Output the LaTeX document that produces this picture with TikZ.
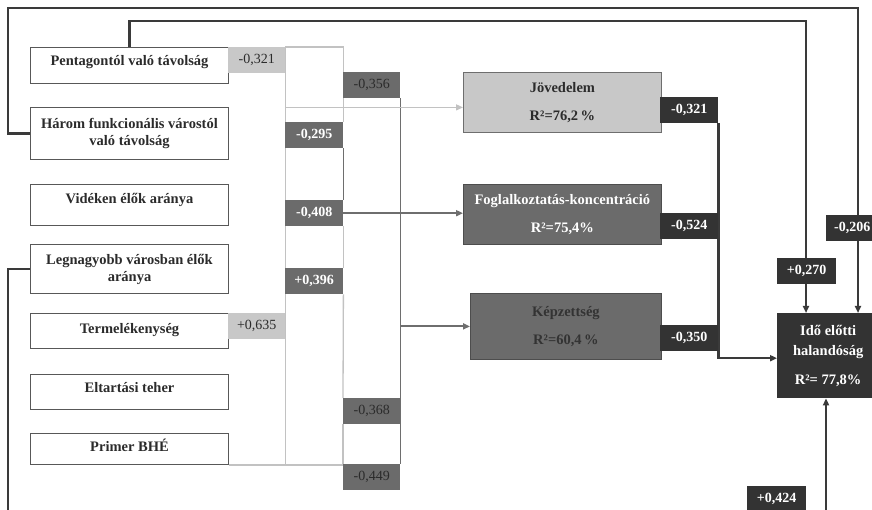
\documentclass[tikz,border=0pt]{standalone}
\usepackage{fontspec}
\setmainfont{Liberation Serif}
\usetikzlibrary{arrows.meta}
\pgfdeclarelayer{bg}
\pgfdeclarelayer{lines}
\pgfsetlayers{bg,lines,main}
\definecolor{lg}{HTML}{C8C8C8}
\definecolor{mg}{HTML}{6B6B6B}
\definecolor{dg}{HTML}{333333}
\definecolor{llin}{HTML}{C2C2C2}
\definecolor{mlin}{HTML}{6E6E6E}
\definecolor{dlin}{HTML}{3A3A3A}
\definecolor{txt}{HTML}{2B2B2B}
\begin{document}
\begin{tikzpicture}[x=1pt,y=-1pt,
  lbox/.style={draw=dlin!85, line width=1pt, fill=white, inner sep=0pt, anchor=north west,
    minimum width=198, font=\fontsize{14.5}{17}\selectfont\bfseries, text=txt, align=center},
  ts/.style={text height=10pt, text depth=#1},
  rbox/.style={inner sep=0pt, anchor=north west, font=\fontsize{14.5}{17}\selectfont\bfseries, align=center},
  lab/.style={inner sep=0pt, anchor=north west, minimum width=58, minimum height=26, font=\fontsize{14}{14}\selectfont},
  lablg/.style={lab, fill=lg, text=txt},
  labmg/.style={lab, fill=mg, text=txt},
  labmw/.style={lab, fill=mg, text=white, font=\fontsize{14}{14}\selectfont\bfseries},
  labdk/.style={lab, fill=dg, text=white, font=\fontsize{14}{14}\selectfont\bfseries},
  lline/.style={draw=llin, line width=1.3pt},
  mline/.style={draw=mlin, line width=1.8pt},
  dline/.style={draw=dlin, line width=2.2pt},
  tip/.style={-{Triangle[length=7pt,width=6pt]}}
]
\useasboundingbox (0,0) rectangle (872,510);
\begin{pgfonlayer}{bg}
\fill[white] (0,0) rectangle (872,510);
\end{pgfonlayer}

% left boxes
\node[lbox, minimum height=36, ts=10.4pt] (pent) at (30,47) {Pentagontól való távolság};
\node[lbox, minimum height=52] (har) at (30,107) {Három funkcionális várostól\\való távolság};
\node[lbox, minimum height=41, ts=12.4pt] (vid) at (30,184) {Vidéken élők aránya};
\node[lbox, minimum height=49] (legn) at (30,244) {Legnagyobb városban élők\\aránya};
\node[lbox, minimum height=35, ts=5.4pt] (term) at (30,313) {Termelékenység};
\node[lbox, minimum height=35, ts=8.4pt] (elt) at (30,374) {Eltartási teher};
\node[lbox, minimum height=31, ts=5.4pt] (prim) at (30,433) {Primer BHÉ};

% left labels
\node[lablg, minimum width=57] (l321) at (228,47) {-0,321};
\node[lablg, minimum width=57] (l635) at (228,313) {+0,635};
\node[labmg, minimum width=57] (l356) at (343,72) {-0,356};
\node[labmw] (l295) at (285,122) {-0,295};
\node[labmw] (l408) at (285,200) {-0,408};
\node[labmw] (l396) at (285,268) {+0,396};
\node[labmg, minimum width=57] (l368) at (343,398) {-0,368};
\node[labmg, minimum width=57] (l449) at (343,464) {-0,449};

% mediator boxes
\node[rbox, fill=lg, text=txt, draw=mlin, line width=0.8pt, minimum width=198, minimum height=60] (jov) at (463,72) {Jövedelem\\[11pt]R²=76,2\,\%};
\node[rbox, fill=mg, text=white, draw=mlin!70!black, line width=0.8pt, minimum width=198, minimum height=60] (fog) at (463,184) {Foglalkoztatás-koncentráció\\[11pt]R²=75,4\%};
\node[rbox, fill=mg, text=dg, draw=mlin!70!black, line width=0.8pt, minimum width=191, minimum height=66] (kep) at (470,293) {Képzettség\\[11pt]R²=60,4\,\%};
\node[rbox, fill=dg, text=white, minimum width=102, minimum height=85, font=\fontsize{14.5}{20}\selectfont\bfseries] (ido) at (777,313) {Idő előtti\\halandóság\\[9pt]R²= 77,8\%};

% right labels
\node[labdk] (r321) at (660,97) {-0,321};
\node[labdk] (r524) at (660,213) {-0,524};
\node[labdk] (r350) at (660,325) {-0,350};
\node[labdk, minimum width=59] (r270) at (777,258) {+0,270};
\node[labdk, minimum width=52] (r206) at (826,215) {-0,206};
\node[labdk, minimum width=59] (r424) at (747,486) {+0,424};

\coordinate (jin) at ([yshift=-5pt]jov.west);
\coordinate (iin) at ([yshift=-2.5pt]ido.west);
\coordinate (o1) at (858,8);
\coordinate (i1) at (806,21);
\coordinate (b1) at (826,530);

\begin{pgfonlayer}{lines}
% light bracket
\draw[lline] (l295.north east) -- (l295.east |- l321.north) -- (l321.north east)
  -- (l321.east |- prim.south);
\draw[lline] (prim.south east) -- (prim.south -| l449.west);
\draw[mline] (l295.south east) -- (l408.north east);
\draw[lline] (l408.south east) -- (l396.north east);
\draw[lline] (l396.south east) -- (l368.north west);
\draw[lline] (l368.south west) -- (l449.north west);
\draw[mline] (l356.south east) -- (l449.north east);
% arrows into mediators
\draw[lline, tip] (l321.east |- jin) -- (jin);
\draw[mline, tip] (l408.east) -- (fog.west |- l408.east);
\draw[mline, tip] (l356.east |- kep.west) -- (kep.west);
% mediators to outcome
\draw[dline, tip] (r321.south east) -- (r321.east |- iin) -- (iin);
% direct paths
\draw[dline, tip] (har.west) -- ++(-22,0) |- (o1) -- (o1 |- ido.north);
\draw[dline, tip] (pent.north) |- (i1) -- (i1 |- ido.north);
\draw[dline, tip] (legn.west) -- ++(-22,0) |- (b1) -- (b1 |- ido.south);
\end{pgfonlayer}
\end{tikzpicture}
\end{document}
